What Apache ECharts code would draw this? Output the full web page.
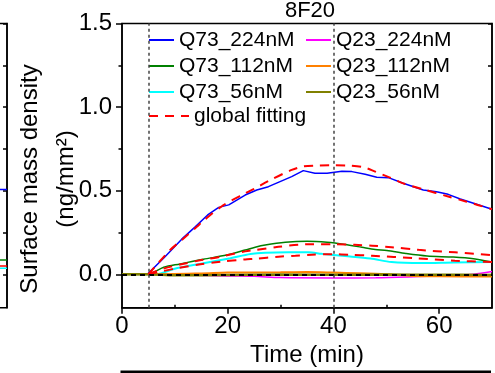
<!DOCTYPE html>
<html>
<head>
<meta charset="utf-8">
<script src="https://cdn.jsdelivr.net/npm/echarts@6/dist/echarts.min.js"></script>
<style>
  html, body { margin: 0; padding: 0; background: #fff; }
  #chart { width: 495px; height: 373px; }
</style>
</head>
<body>
<div id="chart"></div>
<script>
// tick positions
const xTicks = [0, 20, 40, 60];
const xMinorTicks = [10, 30, 50];
const yTicks = [0, 0.5, 1.0, 1.5];
const yMinorTicks = [0.25, 0.75, 1.25];
const markTimes = [5, 40]; // injection / dissociation start

// Q73 measured curves [time (min), density]
const q73_224 = [[0, 0], [4.8, 0], [8, 0.10], [11.3, 0.21], [13.9, 0.285], [16.2, 0.355], [18.3, 0.40],
  [20.2, 0.415], [23.3, 0.474], [25.5, 0.504], [27.7, 0.524], [32.1, 0.584], [34.3, 0.62], [36.5, 0.604],
  [38.8, 0.604], [41.6, 0.616], [43.5, 0.614], [46, 0.598], [48.2, 0.58], [50.4, 0.578], [53.2, 0.544],
  [57, 0.504], [59.5, 0.494], [61.7, 0.478], [64, 0.45], [67.1, 0.419], [70, 0.389]];
const q73_112 = [[0, 0], [4.8, 0], [7.9, 0.042], [11, 0.062], [15.4, 0.09], [19.8, 0.115], [23.3, 0.145],
  [25.2, 0.162], [27.1, 0.175], [30.9, 0.191], [35, 0.197], [38.8, 0.191], [42.2, 0.178], [45.4, 0.161],
  [47.9, 0.148], [50.1, 0.142], [53.7, 0.124], [57.7, 0.109], [62.7, 0.103], [66.5, 0.093], [70, 0.073]];
const q73_56 = [[0, 0], [6.5, 0], [9.8, 0.032], [15.4, 0.066], [20.5, 0.096], [24.3, 0.121], [27.1, 0.129],
  [31.5, 0.132], [35.3, 0.131], [37.8, 0.122], [42.2, 0.109], [47, 0.094], [51, 0.073], [56.6, 0.067],
  [62.7, 0.071], [70, 0.074]];

// Q23 measured curves
const q23_224 = [[0, 0], [5, 0], [12, -0.004], [20, -0.01], [25, -0.012], [30, -0.02], [40, -0.022],
  [48, -0.021], [56, -0.014], [62.7, -0.007], [66.5, 0], [70, 0.016]];
const q23_112 = [[0, 0], [5, 0], [15, 0.005], [20, 0.01], [30, 0.012], [35, 0.013], [40, 0.01],
  [45, 0.006], [50, 0], [55, -0.01], [60, -0.012], [70, -0.014]];
const q23_56 = [[0, 0], [5, 0], [10, -0.006], [20, -0.004], [30, -0.002], [40, -0.003], [50, -0.002],
  [60, -0.003], [70, -0.004]];

// global fitting curves
const fit_224 = [[5, 0], [9.1, 0.145], [11.3, 0.205], [14.2, 0.285], [15.4, 0.32], [19.2, 0.414],
  [23.3, 0.484], [25.2, 0.514], [27.7, 0.558], [32.1, 0.624], [34.3, 0.645], [37, 0.65], [40, 0.652],
  [43, 0.65], [45.7, 0.64], [47.9, 0.614], [50.7, 0.578], [53.2, 0.544], [57, 0.508], [61.4, 0.468],
  [65.2, 0.434], [70, 0.389]];
const fit_112 = [[5, 0], [8, 0.035], [11, 0.058], [15, 0.085], [18.6, 0.105], [23.3, 0.137], [25.2, 0.145],
  [29.6, 0.164], [33.4, 0.177], [36, 0.18], [40, 0.18], [44, 0.176], [47.3, 0.171], [51, 0.162],
  [56.1, 0.146], [63, 0.131], [70, 0.115]];
const fit_56 = [[5, 0], [7.9, 0.02], [10.7, 0.038], [14.5, 0.058], [18.6, 0.075], [23.3, 0.089],
  [25.2, 0.093], [29.6, 0.105], [32.8, 0.111], [35.9, 0.117], [40, 0.12], [43, 0.117], [47.3, 0.111],
  [55.5, 0.096], [63, 0.081], [70, 0.074]];

// right edge of the neighbouring panel (cut off at the left)
const prevBlue = [[60, 0.507], [70, 0.507]];
const prevGreen = [[60, 0.086], [70, 0.086]];
const prevRed = [[60, 0.05], [70, 0.05]];
const prevCyan = [[60, 0.036], [70, 0.036]];

const FONT = 'Liberation Sans, Arial, sans-serif';

const chart = echarts.init(document.getElementById('chart'), null, { renderer: 'canvas' });

const line = (name, data, color, opts) => Object.assign({
  name: name,
  type: 'line',
  data: data,
  symbol: 'none',
  smooth: 0.3,
  xAxisIndex: 0,
  yAxisIndex: 0,
  silent: true,
  lineStyle: { color: color, width: 1.5 },
  itemStyle: { color: color }
}, opts || {});

const fitStyle = { color: '#ff0000', width: 2, type: [9, 7] };

const series = [
  line('Q73_224nM', q73_224, '#0000ff', { smooth: false }),
  line('Q73_112nM', q73_112, '#008000'),
  line('Q73_56nM', q73_56, '#00ffff', { lineStyle: { color: '#00ffff', width: 2 } }),
  line('Q23_224nM', q23_224, '#ff00ff'),
  line('Q23_112nM', q23_112, '#ff8000', { lineStyle: { color: '#ff8000', width: 2 } }),
  line('Q23_56nM', q23_56, '#808000', { lineStyle: { color: '#808000', width: 2.5 } }),
  line('global fitting', fit_224, '#ff0000', { lineStyle: fitStyle }),
  line('global fitting', fit_112, '#ff0000', { lineStyle: fitStyle }),
  line('global fitting', fit_56, '#ff0000', {
    lineStyle: fitStyle,
    markLine: {
      silent: true,
      symbol: 'none',
      label: { show: false },
      animation: false,
      data: [
        { yAxis: 0, lineStyle: { color: '#000', width: 2, type: [5, 4] } },
        ...markTimes.map(t => ({ xAxis: t, lineStyle: { color: '#444', width: 1.5, type: [3, 3] } }))
      ]
    }
  }),
  // neighbouring panel sliver
  line('prev1', prevBlue, '#0000ff', { xAxisIndex: 2, yAxisIndex: 3, smooth: false }),
  line('prev2', prevGreen, '#008000', { xAxisIndex: 2, yAxisIndex: 3, smooth: false }),
  line('prev3', prevRed, '#ff0000', { xAxisIndex: 2, yAxisIndex: 3, smooth: false }),
  line('prev4', prevCyan, '#00ffff', { xAxisIndex: 2, yAxisIndex: 3, smooth: false })
];

const legendText = { fontSize: 21, fontFamily: FONT, color: '#000', lineHeight: 22 };
const legendBase = {
  orient: 'vertical',
  itemWidth: 25,
  itemHeight: 14,
  itemGap: 4,
  padding: 0,
  selectedMode: false,
  itemStyle: { opacity: 0 },
  textStyle: legendText
};

const option = {
  animation: false,
  backgroundColor: '#fff',
  textStyle: { fontFamily: FONT },
  grid: [
    { left: 122, right: 3, top: 23.5, bottom: 65.3, show: true, borderColor: '#000', borderWidth: 1.5, outerBoundsMode: 'none' },
    { left: -100, right: 488, top: 23.5, bottom: 65.3, show: true, borderColor: '#000', borderWidth: 1.5, outerBoundsMode: 'none' }
  ],
  legend: [
    Object.assign({}, legendBase, { left: 148, top: 29, data: ['Q73_224nM', 'Q73_112nM', 'Q73_56nM'] }),
    Object.assign({}, legendBase, { left: 305, top: 29, data: ['Q23_224nM', 'Q23_112nM', 'Q23_56nM'] }),
    Object.assign({}, legendBase, { left: 148, top: 105, itemWidth: 40, data: ['global fitting'] })
  ],
  xAxis: [
    {
      type: 'value', gridIndex: 0, min: 0, max: 70, position: 'bottom',
      axisLine: { onZero: false, lineStyle: { color: '#000', width: 1.5 } },
      axisTick: { customValues: xTicks, length: 6, lineStyle: { color: '#000', width: 1.5 } },
      axisLabel: { customValues: xTicks, fontSize: 24, color: '#000', margin: 7, fontFamily: FONT },
      splitLine: { show: false },
      name: 'Time (min)', nameLocation: 'middle', nameGap: 28,
      nameTextStyle: { fontSize: 24, color: '#000', fontFamily: FONT }
    },
    {
      type: 'value', gridIndex: 0, min: 0, max: 70, position: 'bottom',
      axisLine: { show: false, onZero: false },
      axisTick: { customValues: xMinorTicks, inside: true, length: 3, lineStyle: { color: '#000', width: 1.5 } },
      axisLabel: { show: false },
      splitLine: { show: false }
    },
    {
      type: 'value', gridIndex: 1, min: 55, max: 70, show: false
    }
  ],
  yAxis: [
    {
      type: 'value', gridIndex: 0, min: -0.2, max: 1.5, position: 'left',
      axisLine: { show: true, onZero: false, lineStyle: { color: '#000', width: 1.5 } },
      axisTick: { show: true, customValues: yTicks, length: 6, lineStyle: { color: '#000', width: 1.5 } },
      axisLabel: {
        customValues: yTicks, fontSize: 24, color: '#000', margin: 10, fontFamily: FONT,
        formatter: v => v.toFixed(1)
      },
      splitLine: { show: false }
    },
    {
      type: 'value', gridIndex: 0, min: -0.2, max: 1.5, position: 'left',
      axisLine: { show: false, onZero: false },
      axisTick: { show: true, customValues: yMinorTicks, length: 3.5, lineStyle: { color: '#000', width: 1.5 } },
      axisLabel: { show: false },
      splitLine: { show: false }
    },
    {
      type: 'value', gridIndex: 0, min: -0.2, max: 1.5, position: 'right',
      axisLine: { show: true, onZero: false, lineStyle: { color: '#000', width: 1.5 } },
      axisTick: { show: true, inside: true, customValues: yTicks.concat(yMinorTicks), length: 4, lineStyle: { color: '#000', width: 1.5 } },
      axisLabel: { show: false },
      splitLine: { show: false }
    },
    {
      type: 'value', gridIndex: 1, min: -0.2, max: 1.5, position: 'right',
      axisLine: { show: true, onZero: false, lineStyle: { color: '#000', width: 1.5 } },
      axisTick: { show: true, inside: true, customValues: yTicks.concat(yMinorTicks), length: 4, lineStyle: { color: '#000', width: 1.5 } },
      axisLabel: { show: false },
      splitLine: { show: false }
    }
  ],
  graphic: [
    {
      type: 'text', x: 310, y: 11, silent: true,
      style: { text: '8F20', fontSize: 22, fontFamily: FONT, fill: '#000', align: 'center', verticalAlign: 'middle' }
    },
    {
      type: 'text', x: 30, y: 179, rotation: Math.PI / 2, silent: true,
      style: { text: 'Surface mass density', fontSize: 24, fontFamily: FONT, fill: '#000', align: 'center', verticalAlign: 'middle' }
    },
    {
      type: 'text', x: 66, y: 179, rotation: Math.PI / 2, silent: true,
      style: { text: '(ng/mm²)', fontSize: 24, fontFamily: FONT, fill: '#000', align: 'center', verticalAlign: 'middle' }
    },
    {
      type: 'line', silent: true,
      shape: { x1: 120.5, y1: 372, x2: 491, y2: 372 },
      style: { stroke: '#000', lineWidth: 3 }
    }
  ],
  series: series
};

chart.setOption(option);
</script>
</body>
</html>
